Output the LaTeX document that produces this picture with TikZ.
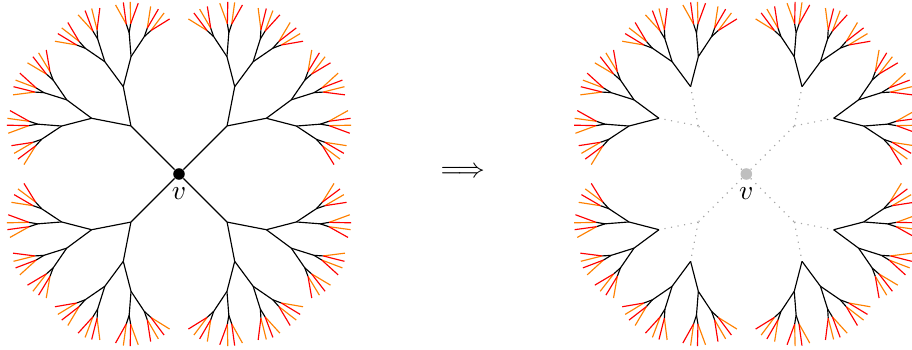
\documentclass[tikz,border=0pt]{standalone}
\usetikzlibrary{calc}
\tikzset{
  vdot/.style={circle,fill=black,inner sep=0pt,minimum size=4.2pt},
  vgray/.style={circle,fill=gray!50,inner sep=0pt,minimum size=4.2pt},
  trunk/.style={black,line width=0.42pt},
  gone/.style={gray!70,dotted,line width=0.42pt},
  leafo/.style={orange,line width=0.42pt},
  leafr/.style={red,line width=0.42pt},
}
\newcommand\fractree[3]{%
 \foreach \a in {45,135,225,315}{
   \path (#1.center) ++(\a:68) coordinate (#3a);
   \draw[#2] (#1) -- (#3a);
   \foreach \s in {-1,1}{
     \pgfmathsetmacro\b{\a+(\s)*34}
     \path (#3a) ++(\b:40) coordinate (#3b);
     \draw[#2] (#3a) -- (#3b);
     \foreach \t in {-1,1}{
       \pgfmathsetmacro\c{\b+(\t)*25.5}
       \path (#3b) ++(\c:31) coordinate (#3c);
       \draw[trunk] (#3b) -- (#3c);
       \foreach \u in {-1,1}{
         \pgfmathsetmacro\d{\c+(\u)*19}
         \path (#3c) ++(\d:24) coordinate (#3d);
         \draw[trunk] (#3c) -- (#3d);
         \foreach \w in {-1,1}{
           \pgfmathsetmacro\e{\d+(\w)*14}
           \path (#3d) ++(\e:9) coordinate (#3e);
           \draw[trunk] (#3d) -- (#3e);
           \path (#3e) ++(\e+10.7:22) coordinate (#3o);
           \path (#3e) ++(\e-10.7:22) coordinate (#3r);
           \draw[leafo] (#3e) -- (#3o);
           \draw[leafr] (#3e) -- (#3r);
         }
       }
     }
   }
 }%
}
\begin{document}
\begin{tikzpicture}[x=0.36364pt,y=0.36364pt]
\useasboundingbox (0,0) rectangle (912,349);
% left tree
\node[vdot] (vL) at (179,175) {};
\fractree{vL}{trunk}{L}
\node (lvL) at (179,155.5) {$v$};
% implication
\node (imp) at (462.8,176.3) {$\Longrightarrow$};
% right tree
\node[vgray] (vR) at (746.3,175) {};
\fractree{vR}{gone}{R}
\node (lvR) at (746.3,155.5) {$v$};
\end{tikzpicture}
\end{document}
